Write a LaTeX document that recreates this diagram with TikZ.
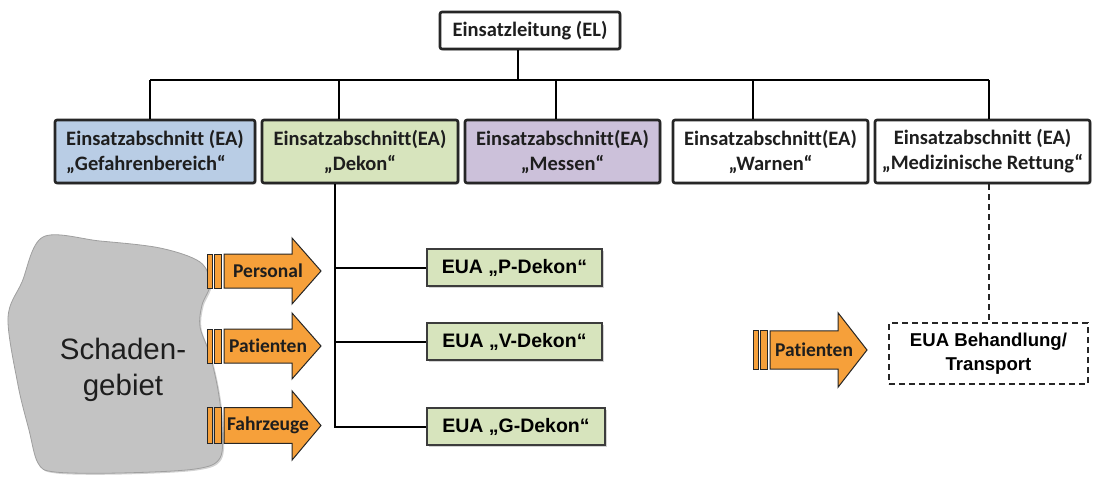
\documentclass[tikz,border=0pt]{standalone}
\usepackage{fontspec}
\setmainfont{Carlito}[Ligatures=CommonOff]
\newfontfamily\arialfont{Liberation Sans}
\usetikzlibrary{shadows}
\definecolor{eablue}{HTML}{B9CDE5}
\definecolor{eagreen}{HTML}{D7E4BD}
\definecolor{eapurple}{HTML}{CCC1DA}
\definecolor{orng}{HTML}{F6A03A}
\definecolor{blobgray}{HTML}{C3C3C3}
\definecolor{edgecol}{HTML}{262626}
\definecolor{txtcol}{HTML}{1E1E1E}
\tikzset{
  softshadow/.style={drop shadow={shadow xshift=1.5pt, shadow yshift=-1.5pt, opacity=0.35}},
  eabox/.style={draw=edgecol, line width=2.6pt, rounded corners=2pt, minimum width=#1,
    minimum height=63, inner sep=0pt, align=center, text=txtcol,
    font=\bfseries\fontsize{20.5}{25}\selectfont, softshadow},
  euabox/.style={draw=edgecol!90, line width=1.6pt, fill=eagreen, minimum width=175,
    minimum height=37, inner sep=0pt, text=black,
    font=\arialfont\bfseries\fontsize{19.5}{23}\selectfont, softshadow},
  conn/.style={draw=black, line width=2pt},
  dashconn/.style={draw=edgecol, line width=2pt, dash pattern=on 6pt off 4pt},
  arrpart/.style={fill=orng, draw=edgecol, line width=1pt, line join=miter},
  arrtext/.style={text=txtcol, inner sep=0pt, font=\bfseries\fontsize{19.5}{23}\selectfont},
}
% #1 name, #2 x0, #3 y centre, #4 label, #5 yscale
\newcommand\flowarrow[5]{%
  \begin{scope}[shift={(#2,#3)}, yscale=#5]
    \path[arrpart] (0,-17) rectangle (5,17);
    \path[arrpart] (7,-17) rectangle (14,17);
    \path[arrpart] (17,-17) -- (85,-17) -- (85,-33) -- (114,0) -- (85,33) -- (85,17) -- (17,17) -- cycle;
    \node[arrtext] (#1) at (61,0) {#4};
  \end{scope}}
\begin{document}
\begin{tikzpicture}[x=1pt, y=-1pt]
\useasboundingbox (0,0) rectangle (1093,479);

% damage area
\path[fill=blobgray, draw=gray!75, line width=0.8pt, softshadow]
  plot[smooth cycle, tension=0.55] coordinates {
    (43,237) (100,241) (160,248) (200,262) (210,284) (202,305) (200,327)
    (210,355) (218,390) (222,425) (220,458) (195,469) (120,473) (55,472)
    (38,463) (29,430) (18,385) (8,318) (22,282)};
\node[align=center, text=txtcol, font=\arialfont\fontsize{29.5}{36}\selectfont]
  (schaden) at (123,370) {Schaden-\\gebiet};

% top
\node[eabox=180, minimum height=37, fill=white] (el) at (530,30.5) {Einsatzleitung (EL)};
\node[eabox=200, fill=eablue, align=left] (gef) at (155,151.5) {Einsatzabschnitt (EA)\\„Gefahrenbereich“};
\node[eabox=196, fill=eagreen] (dekon) at (360,151.5) {Einsatzabschnitt(EA)\\„Dekon“};
\node[eabox=195, fill=eapurple] (messen) at (562.5,151.5) {Einsatzabschnitt(EA)\\„Messen“};
\node[eabox=195, fill=white] (warnen) at (770.5,151.5) {Einsatzabschnitt(EA)\\„Warnen“};
\node[eabox=215, fill=white] (med) at (982.5,151.5) {Einsatzabschnitt (EA)\\„Medizinische Rettung“};

% bus
\coordinate (busL) at (150,80);
\coordinate (busR) at (989,80);
\draw[conn] ([xshift=-12pt]el.south) -- ([xshift=-12pt]el.south |- busL);
\draw[conn] (busL) -- (busR);
\draw[conn] (busL) -- ([xshift=-5pt]gef.north);
\draw[conn] ([xshift=-21pt]dekon.north |- busL) -- ([xshift=-21pt]dekon.north);
\draw[conn] ([xshift=-6.5pt]messen.north |- busL) -- ([xshift=-6.5pt]messen.north);
\draw[conn] ([xshift=-17.5pt]warnen.north |- busL) -- ([xshift=-17.5pt]warnen.north);
\draw[conn] (busR) -- ([xshift=6.5pt]med.north);

% Dekon units
\node[euabox] (pd) at (514.5,267.5) {EUA „P-Dekon“};
\node[euabox] (vd) at (514.5,341.5) {EUA „V-Dekon“};
\node[euabox, minimum width=178] (gd) at (516,426.5) {EUA „G-Dekon“};
\coordinate (trunk) at ([xshift=-25pt]dekon.south);
\draw[conn] (trunk) |- (gd.west);
\draw[conn] (pd.west) -- (pd.west -| trunk);
\draw[conn] (vd.west) -- (vd.west -| trunk);

% flows
\flowarrow{personal}{207}{271}{Personal}{1}
\flowarrow{patL}{207}{346}{Patienten}{1}
\flowarrow{fahrz}{207}{425.5}{Fahrzeuge}{1.05}
\flowarrow{patR}{753}{350}{Patienten}{1.13}

% medical unit
\node[draw=edgecol, line width=1.8pt, dash pattern=on 6pt off 4pt, minimum width=199,
  minimum height=61, inner sep=0pt, align=center, text=black,
  font=\arialfont\bfseries\fontsize{18.6}{24}\selectfont] (behand) at (988.5,353.5)
  {EUA Behandlung/\\Transport};
\draw[dashconn] (behand.north |- med.south) -- (behand.north);
\end{tikzpicture}
\end{document}
